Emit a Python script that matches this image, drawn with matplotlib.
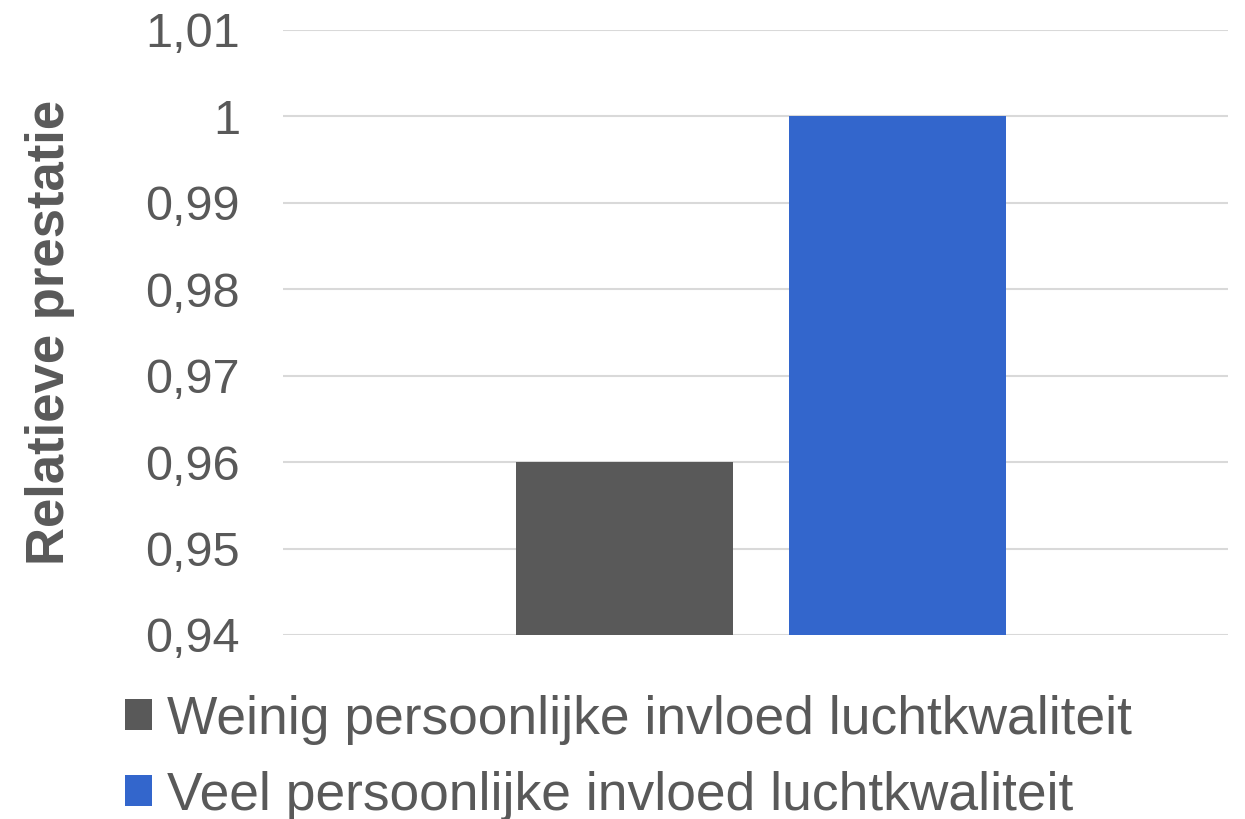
import numpy as np
import matplotlib.pyplot as plt
from matplotlib.ticker import FuncFormatter

plt.rcParams['font.family'] = ['Liberation Sans', 'DejaVu Sans']

series = ["Weinig persoonlijke invloed luchtkwaliteit",
          "Veel persoonlijke invloed luchtkwaliteit"]
values = [0.96, 1.0]
colors = ["#595959", "#3366CC"]
yticks = [0.94, 0.95, 0.96, 0.97, 0.98, 0.99, 1.00, 1.01]

txt = "#595959"

fig = plt.figure(figsize=(12.45, 8.19), dpi=100)
ax = fig.add_axes([0.2273, 0.2247, 0.759, 0.7387])

offsets = [-0.1445, 0.1445]
width = 0.229
for off, v, c, name in zip(offsets, values, colors, series):
    ax.bar(0 + off, v - yticks[0], width, bottom=yticks[0], color=c, label=name, zorder=3)

ax.set_xlim(-0.506, 0.494)
ax.set_ylim(yticks[0], yticks[-1])
ax.set_yticks(yticks)
ax.yaxis.set_major_formatter(FuncFormatter(lambda v, p: ("%g" % round(v, 2)).replace(".", ",")))
ax.set_xticks([])
ax.grid(axis="y", color="#D9D9D9", linewidth=1.5, zorder=0)
for s in ax.spines.values():
    s.set_visible(False)
ax.tick_params(axis="y", length=0, pad=31, labelsize=35, labelcolor=txt)

fig.text(0.040, 0.594, "Relatieve prestatie", rotation=90, ha="center", va="center",
         fontsize=38, fontweight="bold", color=txt)

leg = fig.legend(loc="upper left", bbox_to_anchor=(0.1004, 0.152), frameon=False,
                 fontsize=38.4, handlelength=0.51, handleheight=0.51,
                 handletextpad=0.28, labelspacing=0.49, borderaxespad=0, borderpad=0)
for t in leg.get_texts():
    t.set_color(txt)

plt.savefig("out.png", dpi=100)
